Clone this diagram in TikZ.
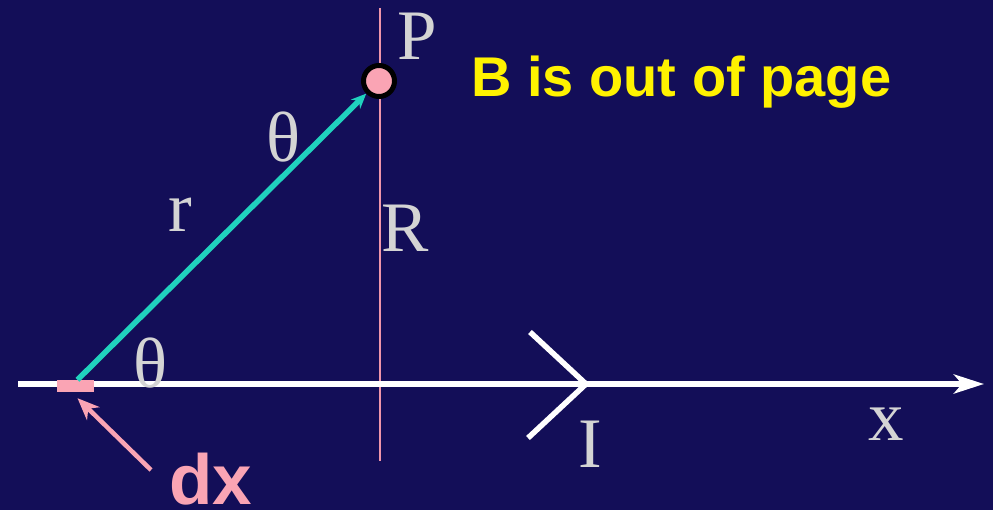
\documentclass[tikz,border=0pt]{standalone}
\usepackage{fontspec}
\setmainfont{Liberation Serif}
\newfontfamily\labsans{Liberation Sans}
\usetikzlibrary{arrows.meta}
\definecolor{bgc}{RGB}{19,14,88}
\definecolor{pinkc}{RGB}{250,164,180}
\definecolor{linepink}{RGB}{240,150,170}
\definecolor{cyanc}{RGB}{32,210,190}
\definecolor{greyc}{RGB}{212,212,212}
\tikzset{
  lab/.style={text=greyc, anchor=base, inner sep=0pt, font=\fontsize{71}{71}\selectfont},
  axisline/.style={draw=white, line width=5.5pt},
}
\begin{document}
\begin{tikzpicture}[x=1pt,y=-1pt]
\fill[bgc] (0,0) rectangle (993,510);
\useasboundingbox (0,0) rectangle (993,510);
% coordinates
\coordinate (vtop) at (380,8);
\coordinate (vbot) at (380,461);
\coordinate (xl) at (18,384);
\coordinate (xr) at (984,384);
\coordinate (chtop) at (530,332);
\coordinate (chtip) at (586,384);
\coordinate (chbot) at (528,438);
\coordinate (dxtail) at (151,470);
% vertical line
\draw[linepink, line width=2pt] (vtop) -- (vbot);
% x axis
\draw[axisline, -{Stealth[length=30pt,width=19pt,inset=8pt]}] (xl) -- (xr);
% current chevron
\draw[white, line width=5.5pt] (chtop) -- (chtip) -- (chbot);
% dx element
\node[rectangle, fill=pinkc, minimum width=37pt, minimum height=12pt, inner sep=0pt] (dx) at (75.5,386) {};
% point P
\node[circle, fill=pinkc, draw=black, line width=5pt, minimum size=31pt, inner sep=0pt] (P) at (379,81) {};
% r vector
\draw[cyanc, line width=5.5pt, -{Stealth[length=15pt,width=13pt,inset=5pt]}] ([xshift=2pt]dx.north) -- (P);
% dx pointer
\draw[pinkc, line width=4.5pt, -{Stealth[length=22pt,width=18pt,inset=7pt]}] (dxtail) -- ([shift={(2,6)}]dx.south);
% labels
\node[lab] (lP) at (417,60) {P};
\node[lab] (lth1) at (284,162) {θ};
\node[lab] (lr) at (180,232) {r};
\node[lab] (lR) at (405,252) {R};
\node[lab] (lth2) at (151,388) {θ};
\node[lab] (lI) at (590,467) {I};
\node[lab] (lx) at (886,440) {x};
\node[anchor=base west, inner sep=0pt, text=yellow, font=\labsans\bfseries\fontsize{56}{56}\selectfont] (lB) at (471,97) {B is out of page};
\node[anchor=base west, inner sep=0pt, text=pinkc, font=\labsans\bfseries\fontsize{71}{71}\selectfont] (ldx) at (169,504) {dx};
\end{tikzpicture}
\end{document}
